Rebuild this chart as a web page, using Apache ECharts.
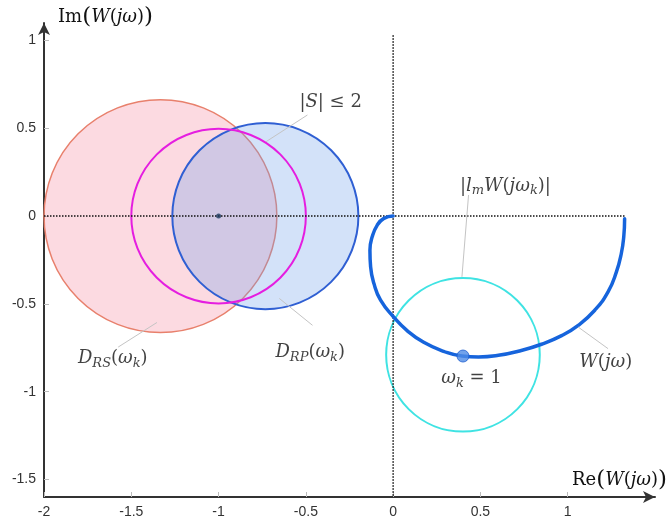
<!DOCTYPE html>
<html>
<head>
<meta charset="utf-8">
<script src="https://cdn.jsdelivr.net/npm/echarts@6/dist/echarts.min.js"></script>
<style>
  html, body { margin: 0; padding: 0; background: #fff; }
  #chart { width: 670px; height: 519px; }
</style>
</head>
<body>
<div id="chart"></div>
<script>
// Nyquist curve W(jω): real and imaginary parts, from ω = 0 towards ω → ∞
const wRe = [1.326, 1.321, 1.307, 1.279, 1.231, 1.155, 1.060, 0.965, 0.850, 0.717, 0.603, 0.489,
             0.394, 0.289, 0.175, 0.080, 0.004, -0.072, -0.110, -0.129, -0.133, -0.120, -0.091, -0.053, 0];
const wIm = [-0.015, -0.118, -0.213, -0.318, -0.432, -0.536, -0.622, -0.681, -0.730, -0.770, -0.793, -0.802,
             -0.797, -0.770, -0.719, -0.652, -0.576, -0.479, -0.384, -0.289, -0.194, -0.118, -0.051, -0.013, 0];

// Frequency point ω_k = 1 on the curve
const pointRe = [0.40];
const pointIm = [-0.797];

// Critical point (-1, 0)
const criticalRe = [-1];
const criticalIm = [0];

// Discs: D_RS(ω_k), D_RP(ω_k), |S| ≤ 2 boundary, |l_m W(jω_k)| around W(jω_k)
const circleRe = [-1.333, -0.732, -1.0, 0.40];
const circleIm = [0, 0, 0, -0.79];
const circleR  = [0.667, 0.533, 0.5, 0.44];

// Axis tick values
const xTicks = [-2, -1.5, -1, -0.5, 0, 0.5, 1];
const yTicks = [-1.5, -1, -0.5, 0, 0.5, 1];

// Annotation texts (rich-text markup) and their anchors in the Re/Im plane
const noteTexts = [
  '{n||}{i|S}{n|| ≤ 2}',
  '{i|D}{s|RS}{n|(}{i|ω}{s|k}{n|)}',
  '{i|D}{s|RP}{n|(}{i|ω}{s|k}{n|)}',
  '{n||}{i|l}{s|m}{i|W}{n|(}{i|jω}{s|k}{n|)|}',
  '{i|W}{n|(}{i|jω}{n|)}',
  '{i|ω}{s|k}{n| = 1}'
];
const noteRe = [-0.358, -1.606, -0.475, 0.643, 1.218, 0.449];
const noteIm = [0.650, -0.810, -0.775, 0.171, -0.833, -0.924];

// Leader lines from each annotation to its mark
const leaderFrom = [[-0.491, 0.576], [-1.353, -0.606], [-0.652, -0.469], [0.432, 0.120], [1.060, -0.632]];
const leaderTo   = [[-0.728, 0.424], [-1.575, -0.746], [-0.462, -0.622], [0.394, -0.346], [1.231, -0.755]];

const serif = '"DejaVu Serif", "Liberation Serif", serif';
const sans = '"Liberation Sans", Arial, sans-serif';
const ink = '#111';
const rich = {
  n: { fontFamily: serif, fontSize: 18, color: ink },
  i: { fontFamily: serif, fontSize: 18, fontStyle: 'italic', color: ink },
  s: { fontFamily: serif, fontSize: 13, fontStyle: 'italic', color: ink, padding: [10, 0, 0, 0] },
  b: { fontFamily: serif, fontSize: 23, color: ink }
};

const circleStyles = [
  { fill: 'rgba(245,150,170,0.35)', stroke: '#e8806c', lineWidth: 1.5 },
  { fill: 'rgba(110,160,235,0.30)', stroke: '#2f5fd3', lineWidth: 2 },
  { fill: 'none', stroke: '#e51ee0', lineWidth: 2 },
  { fill: 'none', stroke: '#3fe3e3', lineWidth: 2 }
];

const chart = echarts.init(document.getElementById('chart'), null, { renderer: 'canvas' });

const axisCommon = {
  type: 'value',
  axisLine: { show: true, onZero: false, symbol: ['none', 'arrow'], symbolSize: [9, 12],
              lineStyle: { color: '#333', width: 2 } },
  splitLine: { show: false },
  axisLabel: { color: '#333', fontFamily: sans, fontSize: 14 }
};

chart.setOption({
  animation: false,
  backgroundColor: '#fff',
  grid: { left: 44, right: 13, top: 23, bottom: 22 },
  xAxis: Object.assign({}, axisCommon, {
    min: -2, max: 1.5,
    axisTick: { show: true, inside: true, length: 5, lineStyle: { color: '#bbb' }, customValues: xTicks },
    axisLabel: Object.assign({}, axisCommon.axisLabel, { margin: 8, customValues: xTicks }),
    name: '{n|Re}{b|(}{i|W}{n|(}{i|jω}{n|)}{b|)}',
    nameLocation: 'end',
    nameGap: 12,
    nameTextStyle: { align: 'right', verticalAlign: 'bottom', padding: [0, 0, 5, 0], rich: rich }
  }),
  yAxis: Object.assign({}, axisCommon, {
    min: -1.6, max: 1.1,
    axisTick: { show: true, inside: true, length: 5, lineStyle: { color: '#bbb' }, customValues: yTicks },
    axisLabel: Object.assign({}, axisCommon.axisLabel, { margin: 8, customValues: yTicks }),
    name: '{n|Im}{b|(}{i|W}{n|(}{i|jω}{n|)}{b|)}',
    nameLocation: 'end',
    nameGap: 6,
    nameTextStyle: { align: 'left', verticalAlign: 'middle', padding: [0, 0, 0, 14], rich: rich }
  }),
  series: [
    {
      // filled and outlined discs
      type: 'custom',
      z: 2,
      silent: true,
      clip: false,
      data: circleRe.map((re, k) => [re, circleIm[k], circleR[k], k]),
      encode: { x: 0, y: 1 },
      renderItem: function (params, api) {
        const c = api.coord([api.value(0), api.value(1)]);
        const r = api.size([api.value(2), 0])[0];
        const st = circleStyles[api.value(3)];
        return { type: 'circle', shape: { cx: c[0], cy: c[1], r: r }, style: st };
      }
    },
    {
      // real axis through the origin
      type: 'line', z: 3, silent: true, symbol: 'none',
      data: [[-2, 0], [wRe[0], 0]],
      lineStyle: { color: '#111', width: 1.5, type: [1.5, 1.5] }
    },
    {
      // imaginary axis through the origin
      type: 'line', z: 3, silent: true, symbol: 'none',
      data: [[0, 1.03], [0, -1.6]],
      lineStyle: { color: '#111', width: 1.5, type: [1.5, 1.5] }
    },
    {
      // annotation leader lines
      type: 'line', z: 3, silent: true, symbol: 'none', data: [],
      markLine: {
        silent: true, symbol: ['none', 'none'], label: { show: false },
        lineStyle: { color: '#c4c4c4', width: 1, type: 'solid' },
        data: leaderFrom.map((p, k) => [{ coord: p }, { coord: leaderTo[k] }])
      }
    },
    {
      // Nyquist curve
      type: 'line', z: 4, silent: true, symbol: 'none', smooth: true,
      data: wRe.map((re, k) => [re, wIm[k]]),
      lineStyle: { color: '#1664dc', width: 3.5, cap: 'round' }
    },
    {
      type: 'scatter', z: 5, silent: true, symbolSize: 12,
      data: pointRe.map((re, k) => [re, pointIm[k]]),
      itemStyle: { color: '#4d8be6', borderColor: '#1f5fcf', borderWidth: 1 }
    },
    {
      type: 'scatter', z: 5, silent: true, symbolSize: 5,
      data: criticalRe.map((re, k) => [re, criticalIm[k]]),
      itemStyle: { color: '#1d3a5c' }
    },
    {
      // annotation texts
      type: 'scatter', z: 6, silent: true, symbolSize: 1,
      itemStyle: { color: 'transparent' },
      label: { show: true, position: 'inside', rich: rich },
      data: noteTexts.map((t, k) => ({ value: [noteRe[k], noteIm[k]], label: { formatter: t } }))
    }
  ]
});
</script>
</body>
</html>
